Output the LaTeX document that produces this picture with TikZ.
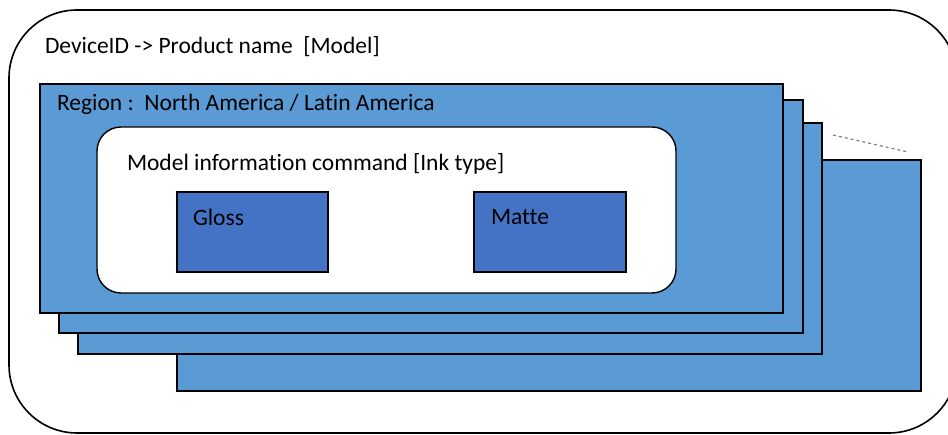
\documentclass[tikz,border=0pt]{standalone}
\usepackage{fontspec}
\setmainfont{Carlito}[Ligatures={NoCommon}]
\usetikzlibrary{positioning}
\definecolor{layerblue}{HTML}{5B9BD5}
\definecolor{inkblue}{HTML}{4472C4}
\tikzset{every node/.style={ % Sets the properties for each box
            anchor=north west,
            inner sep=0pt,
            outer sep=0pt},
        frame/.style={ % Outer rounded frame
            draw, line width=1.6pt,
            rounded corners=68pt},
        layer/.style={ % One region sheet of the stack
            draw, line width=1.5pt,
            fill=layerblue},
        panel/.style={ % White card inside the front sheet
            draw, line width=1.4pt,
            fill=white,
            rounded corners=24pt},
        ink/.style={ % Ink type boxes
            draw, line width=1.2pt,
            fill=inkblue},
        label/.style={ % Texts, left aligned
            anchor=west,
            font=\fontsize{23.5}{26}\selectfont}
        }
\begin{document}
\begin{tikzpicture}[x=1pt, y=-1pt]
    \useasboundingbox (0,0) rectangle (948,435);

    \node[frame, minimum width=948, minimum height=423] (outer) at (9,10) {};

    % stack of regions, back to front
    \node[layer, minimum width=744, minimum height=231] (r4) at (177,160) {};
    \node[layer, minimum width=744, minimum height=231] (r3) at (78,123) {};
    \node[layer, minimum width=744, minimum height=233] (r2) at (59,100) {};
    \node[layer, minimum width=743, minimum height=229] (r1) at (40,84) {};

    \node[panel, minimum width=579, minimum height=166] (info) at (97,127) {};
    \node[ink, minimum width=151, minimum height=80] (gloss) at (177,192) {};
    \node[ink, minimum width=152, minimum height=80] (matte) at (474,192) {};

    \coordinate (more a) at (833,135);
    \coordinate (more b) at (908,152);
    \draw[dashed, gray, line width=1.2pt] (more a) -- (more b);

    \node[label] (device) at (45,47) {DeviceID -> Product name\ \ [Model]};
    \node[label] (region) at (57,104) {Region :\ \ North America / Latin America};
    \node[label] (command) at (127,164) {Model information command [Ink type]};
    \node[label] (gloss text) at (193,217) {Gloss};
    \node[label] (matte text) at (491,217) {Matte};
\end{tikzpicture}
\end{document}
